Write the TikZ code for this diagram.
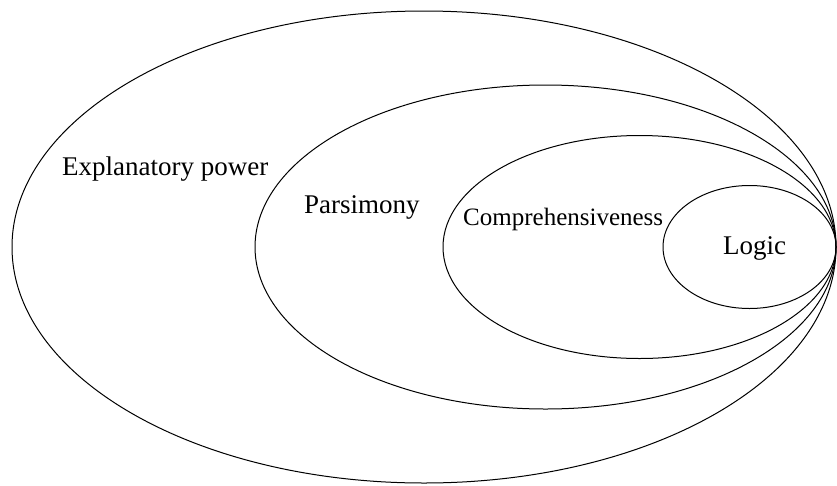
\documentclass[tikz,border=0pt]{standalone}
\usepackage{fontspec}
\setmainfont{Liberation Serif}
\usetikzlibrary{shapes.geometric}
\begin{document}
\begin{tikzpicture}[x=1pt,y=-1pt,
  ring/.style={draw, ellipse, inner sep=0pt, line width=1pt},
  lbl/.style={anchor=base west, inner sep=0pt, font=\fontsize{27}{32}\selectfont},
  lblsmall/.style={lbl, font=\fontsize{25}{30}\selectfont}]
  \useasboundingbox (0,0) rectangle (837,485);
  % nested sets, all touching at the right-hand edge
  \node[ring, minimum width=824pt, minimum height=472pt] (explanatory) at (424,247) {};
  \node[ring, minimum width=581pt, minimum height=324pt] (parsimony) at (545.5,247) {};
  \node[ring, minimum width=393pt, minimum height=223pt] (comprehensive) at (639.5,247) {};
  \node[ring, minimum width=173pt, minimum height=123pt] (logic) at (749.5,247) {};
  % set names
  \node[lbl] (tExpl) at (62,175) {Explanatory power};
  \node[lbl] (tPars) at (304,213) {Parsimony};
  \node[lblsmall] (tComp) at (463,225) {Comprehensiveness};
  \node[lbl] (tLogic) at (723,254) {Logic};
\end{tikzpicture}
\end{document}
